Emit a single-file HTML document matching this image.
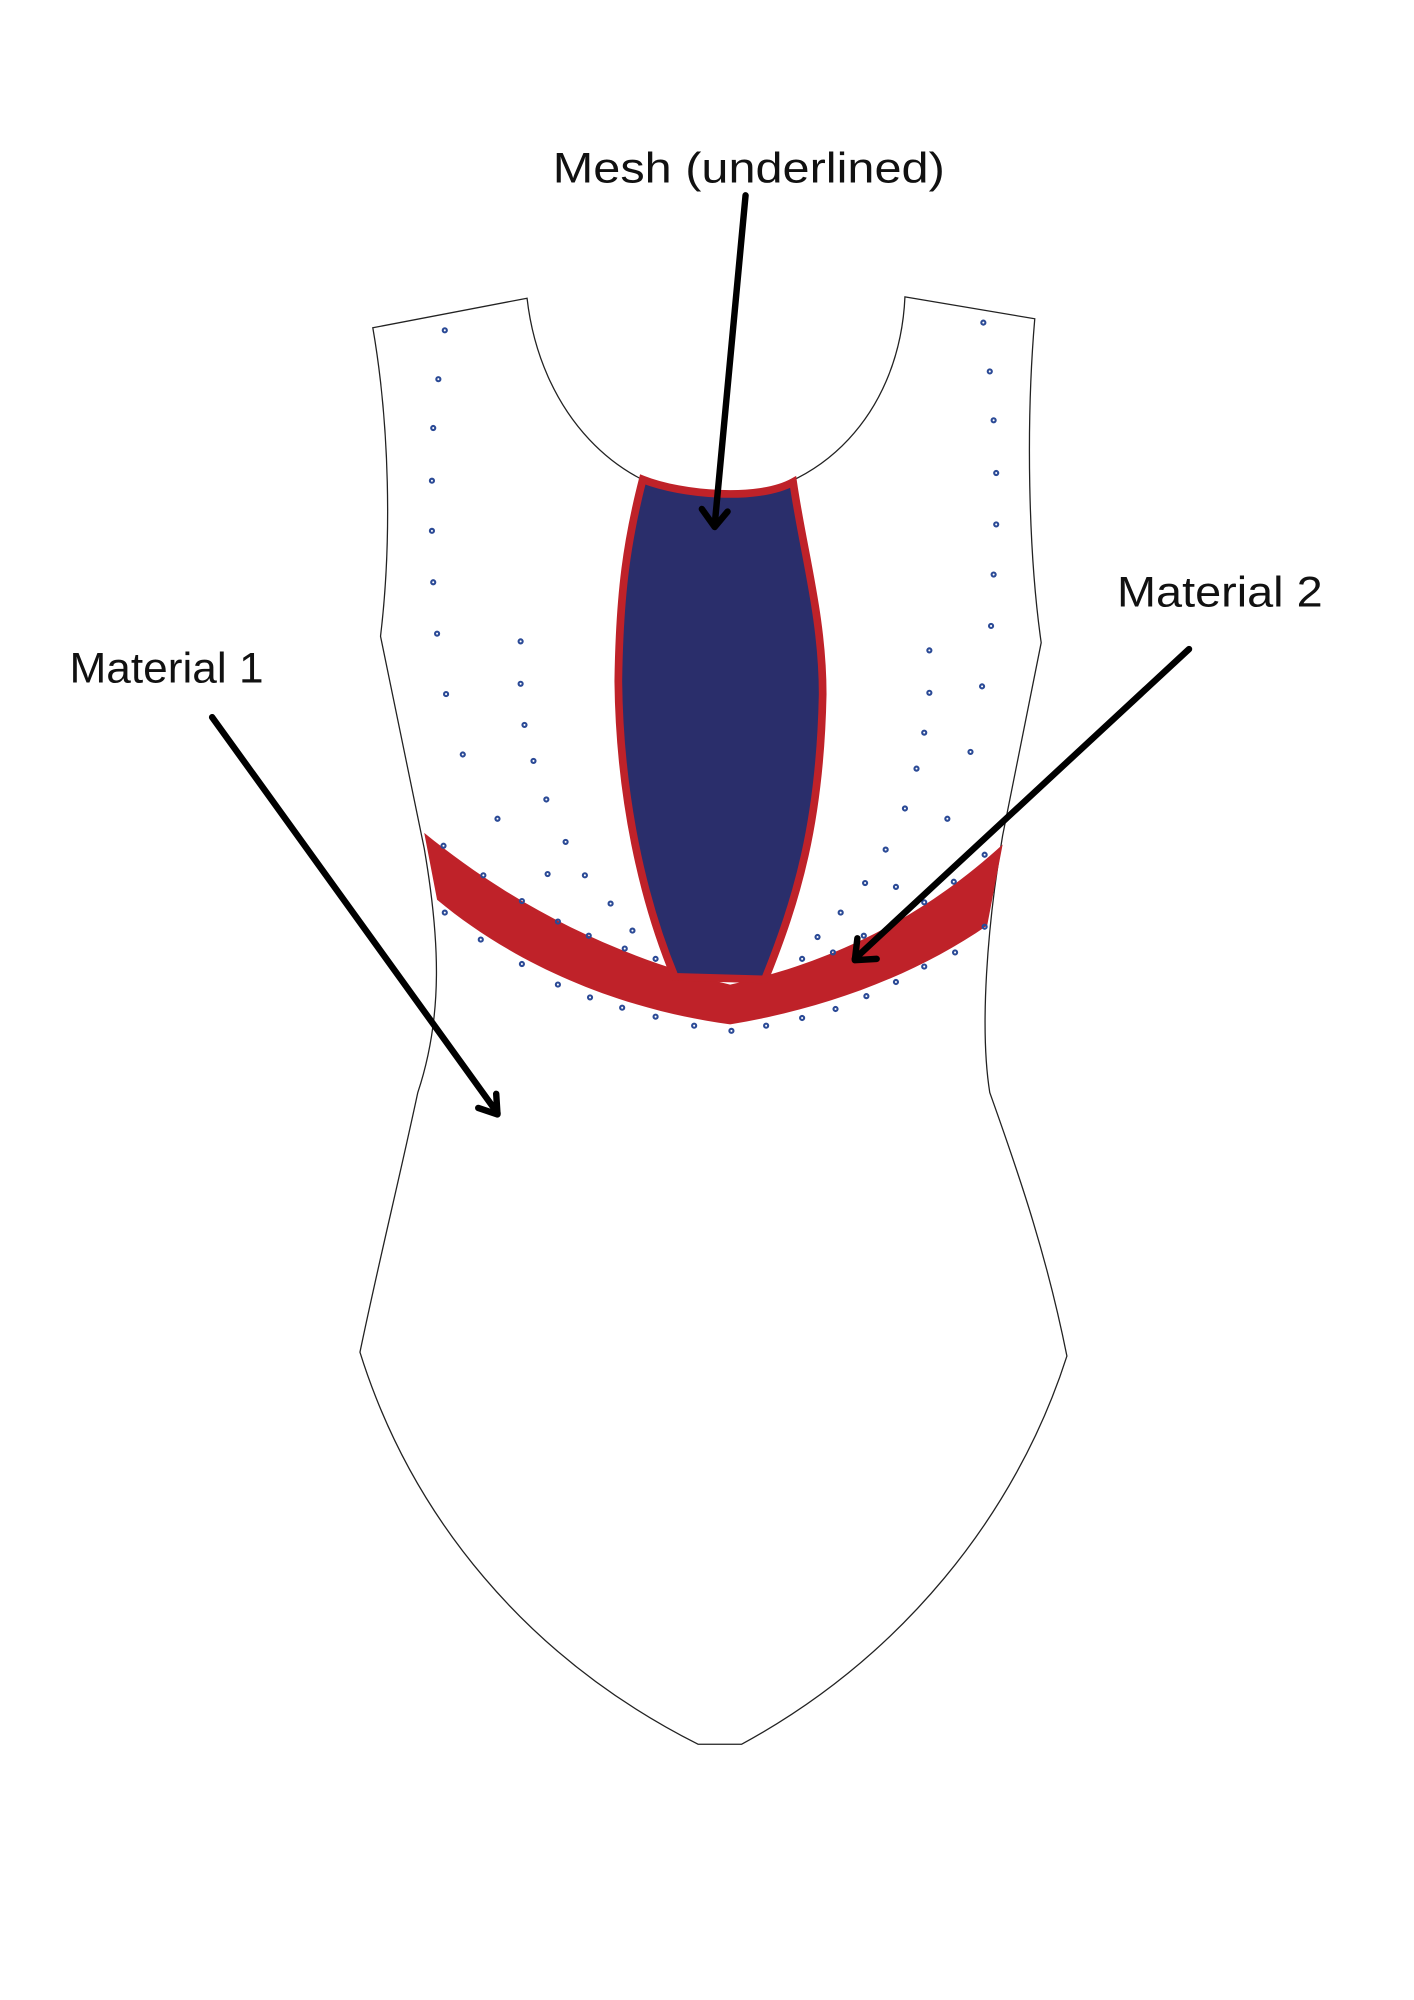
<!DOCTYPE html>
<html><head><meta charset="utf-8"><style>
html,body{margin:0;padding:0;background:#fff;}
svg{display:block;}
text{font-family:"Liberation Sans",sans-serif;fill:#111;}
</style></head><body>
<svg width="1414" height="2000" viewBox="0 0 1100 1556" xmlns="http://www.w3.org/2000/svg">
<rect width="1100" height="1556" fill="#fff"/>
<!-- body outline -->
<path d="M290,255 L410,232 C420,320 480,385 557,388 C640,385 700,320 704,231 L805,248 C798,330 800,430 810,500 L780,650 C768,720 762,800 770,850 C795,920 815,980 830,1055 C790,1180 700,1290 577,1357 L543,1357 C410,1290 320,1180 280,1052 C295,980 310,920 325,850 C345,790 342,730 330,660 L296,495 C305,420 303,330 290,255 Z" fill="#fff" stroke="#222" stroke-width="1"/>
<!-- red band -->
<path d="M330,648 C400,705 480,745 568,766 C650,748 720,712 780,657 L768,720 C710,760 640,785 568,797 C480,785 400,750 340,700 Z" fill="#bf2229"/>
<!-- mesh -->
<path d="M500,373 C530,385 590,390 617,375 C625,430 640,480 640,540 C638,640 620,700 595,762 L525,760 C500,700 482,620 481,530 C482,460 488,420 500,373 Z" fill="#2a2e6b" stroke="#bf2229" stroke-width="6"/>
<!-- dots -->
<g fill="none" stroke="#2b4a96" stroke-width="1.6">
<circle cx="346" cy="257" r="1.6"/><circle cx="341" cy="295" r="1.6"/><circle cx="337" cy="333" r="1.6"/><circle cx="336" cy="374" r="1.6"/><circle cx="336" cy="413" r="1.6"/><circle cx="337" cy="453" r="1.6"/><circle cx="340" cy="493" r="1.6"/><circle cx="347" cy="540" r="1.6"/><circle cx="360" cy="587" r="1.6"/><circle cx="387" cy="637" r="1.6"/><circle cx="345" cy="658" r="1.6"/>
<circle cx="405" cy="499" r="1.6"/><circle cx="405" cy="532" r="1.6"/><circle cx="408" cy="564" r="1.6"/><circle cx="415" cy="592" r="1.6"/><circle cx="425" cy="622" r="1.6"/><circle cx="440" cy="655" r="1.6"/><circle cx="455" cy="681" r="1.6"/><circle cx="426" cy="680" r="1.6"/><circle cx="475" cy="703" r="1.6"/><circle cx="492" cy="724" r="1.6"/><circle cx="510" cy="746" r="1.6"/>
<circle cx="376" cy="681" r="1.6"/><circle cx="406" cy="701" r="1.6"/><circle cx="434" cy="717" r="1.6"/><circle cx="458" cy="728" r="1.6"/><circle cx="486" cy="738" r="1.6"/>
<circle cx="346" cy="710" r="1.6"/><circle cx="374" cy="731" r="1.6"/><circle cx="406" cy="750" r="1.6"/><circle cx="434" cy="766" r="1.6"/><circle cx="459" cy="776" r="1.6"/><circle cx="484" cy="784" r="1.6"/><circle cx="510" cy="791" r="1.6"/><circle cx="540" cy="798" r="1.6"/><circle cx="569" cy="802" r="1.6"/><circle cx="596" cy="798" r="1.6"/><circle cx="624" cy="792" r="1.6"/><circle cx="650" cy="785" r="1.6"/><circle cx="674" cy="775" r="1.6"/><circle cx="697" cy="764" r="1.6"/><circle cx="719" cy="752" r="1.6"/><circle cx="743" cy="741" r="1.6"/><circle cx="766" cy="721" r="1.6"/>
<circle cx="765" cy="251" r="1.6"/><circle cx="770" cy="289" r="1.6"/><circle cx="773" cy="327" r="1.6"/><circle cx="775" cy="368" r="1.6"/><circle cx="775" cy="408" r="1.6"/><circle cx="773" cy="447" r="1.6"/><circle cx="771" cy="487" r="1.6"/><circle cx="764" cy="534" r="1.6"/><circle cx="755" cy="585" r="1.6"/><circle cx="737" cy="637" r="1.6"/><circle cx="766" cy="665" r="1.6"/>
<circle cx="723" cy="506" r="1.6"/><circle cx="723" cy="539" r="1.6"/><circle cx="719" cy="570" r="1.6"/><circle cx="713" cy="598" r="1.6"/><circle cx="704" cy="629" r="1.6"/><circle cx="689" cy="661" r="1.6"/><circle cx="673" cy="687" r="1.6"/><circle cx="654" cy="710" r="1.6"/><circle cx="636" cy="729" r="1.6"/><circle cx="624" cy="746" r="1.6"/>
<circle cx="697" cy="690" r="1.6"/><circle cx="719" cy="702" r="1.6"/><circle cx="742" cy="686" r="1.6"/><circle cx="648" cy="741" r="1.6"/><circle cx="672" cy="728" r="1.6"/>
</g>
<!-- arrows -->
<g stroke="#000" stroke-width="5" fill="none" stroke-linecap="round" stroke-linejoin="round">
<line x1="580" y1="152" x2="556" y2="408"/>
<polyline points="546,396 556,410 566,398"/>
<line x1="925" y1="505" x2="665" y2="746"/>
<polyline points="667,730 665,747 682,746"/>
<line x1="165" y1="558" x2="387" y2="866"/>
<polyline points="372,862 387,867 386,851"/>
</g>
<text x="430" y="142" font-size="33" textLength="305" lengthAdjust="spacingAndGlyphs">Mesh (underlined)</text>
<text x="54" y="531" font-size="33" textLength="151" lengthAdjust="spacingAndGlyphs">Material 1</text>
<text x="869" y="472" font-size="33" textLength="160" lengthAdjust="spacingAndGlyphs">Material 2</text>
</svg>
</body></html>
